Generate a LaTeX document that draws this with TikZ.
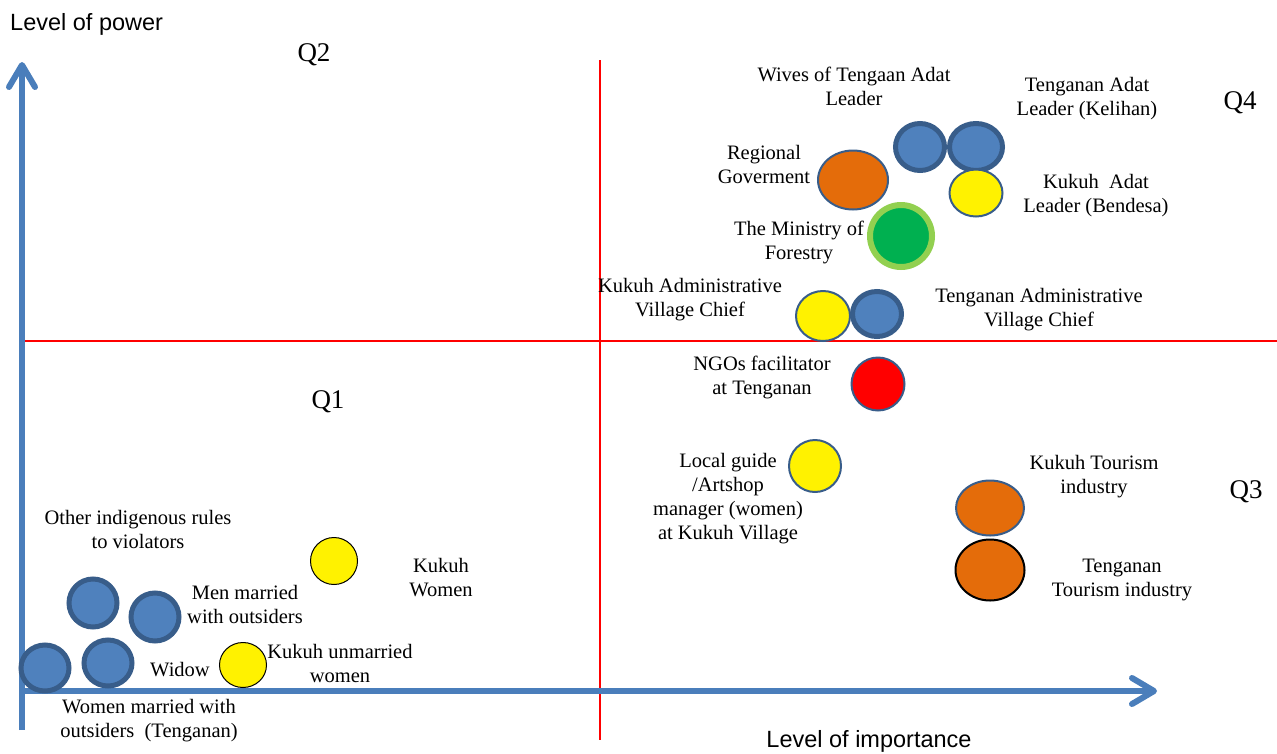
\documentclass[tikz,border=0pt]{standalone}
\usepackage{fontspec}
\setmainfont{Liberation Serif}
\newfontfamily\arialf{Liberation Sans}
\usetikzlibrary{shapes.geometric,arrows.meta}
\definecolor{bfill}{HTML}{4F81BD}
\definecolor{bdark}{HTML}{385D8A}
\definecolor{axblue}{HTML}{4A7EBB}
\definecolor{orng}{HTML}{E46C0A}
\definecolor{grn}{HTML}{00B050}
\definecolor{lgrn}{HTML}{92D050}
\begin{document}
\begin{tikzpicture}[x=1pt,y=-1pt,
  lab/.style={align=center, font=\fontsize{20.5}{24}\selectfont, inner sep=0pt},
  qlab/.style={font=\fontsize{27}{30}\selectfont, inner sep=0pt},
  axlab/.style={font=\arialf\fontsize{23.5}{26}\selectfont, inner sep=0pt},
  axisline/.style={line width=6pt, draw=axblue, -{Straight Barb[length=22pt,width=26pt,line cap=round,line join=round]}},
  quad/.style={draw=red, line width=2pt},
  blob/.style={ellipse, inner sep=0pt, outer sep=0pt},
  bluec/.style={blob, draw=bdark, line width=5pt, fill=bfill},
  yelc/.style={blob, draw=bdark, line width=2pt, fill=yellow},
  yelk/.style={blob, draw=black, line width=1pt, fill=yellow},
  orc/.style={blob, draw=bdark, line width=2pt, fill=orng},
]
\useasboundingbox (0,0) rectangle (1277,753);

% quadrant lines
\coordinate (qvt) at (600,60);
\coordinate (qvb) at (600,740);
\coordinate (qhl) at (22,341);
\coordinate (qhr) at (1277,341);
\draw[quad] (qvt) -- (qvb);
\draw[quad] (qhl) -- (qhr);

% axes
\coordinate (vb) at (22,730);
\coordinate (vt) at (22,62);
\coordinate (hl) at (22,691);
\coordinate (hr) at (1157,691);
\draw[axisline] (vb) -- (vt);
\draw[axisline] (hl) -- (hr);

\node[axlab, anchor=west] (ypow) at (10,24) {Level of power};
\node[axlab] (ximp) at (869,741) {Level of importance};

% quadrant labels
\node[qlab] (q2) at (314,55) {Q2};
\node[qlab] (q1) at (328,402) {Q1};
\node[qlab] (q4) at (1240,103) {Q4};
\node[qlab] (q3) at (1246,492) {Q3};

% circles Q4
\node[bluec, minimum width=49pt, minimum height=47pt] (wives) at (920,147) {};
\node[bluec, minimum width=53pt, minimum height=47pt] (tadat) at (976,147) {};
\node[orc, minimum width=70pt, minimum height=59pt] (regio) at (853,180) {};
\node[yelc, minimum width=53pt, minimum height=47pt] (kadat) at (976,193) {};
\node[blob, draw=lgrn, fill=grn, line width=6pt, minimum width=62pt, minimum height=62pt] (minis) at (901,236) {};
\node[yelc, minimum width=54pt, minimum height=50pt] (kadm) at (823,316) {};
\node[bluec, minimum width=49pt, minimum height=45pt] (tadm) at (877,314) {};

% circles Q3
\node[blob, draw=bdark, line width=2pt, fill=red, minimum width=53pt, minimum height=53pt] (ngo) at (878,384) {};
\node[yelc, minimum width=52pt, minimum height=52pt] (guide) at (815,466) {};
\node[orc, minimum width=68pt, minimum height=55pt] (ktour) at (990,508) {};
\node[blob, draw=black, line width=2pt, fill=orng, minimum width=69pt, minimum height=61pt] (ttour) at (990,570) {};

% circles Q1
\node[yelk, minimum width=47pt, minimum height=47pt] (kwom) at (334,561) {};
\node[bluec, minimum width=48pt, minimum height=48pt] (other) at (93,603) {};
\node[bluec, minimum width=48pt, minimum height=48pt] (men) at (155,617) {};
\node[bluec, minimum width=48pt, minimum height=46pt] (wmar) at (45,668) {};
\node[bluec, minimum width=48pt, minimum height=46pt] (widow) at (108,663) {};
\node[yelk, minimum width=47pt, minimum height=45pt] (kunm) at (243,665) {};

% labels
\node[lab] (lwives) at (854,86) {Wives of Tengaan Adat\\Leader};
\node[lab] (ltadat) at (1087,99) {Tenganan Adat\\Leader (Kelihan)};
\node[lab] (lregio) at (764,164) {Regional\\Goverment};
\node[lab] (lkadat) at (1096,196) {Kukuh\ \ Adat\\Leader (Bendesa)};
\node[lab] (lminis) at (799,242) {The Ministry of\\Forestry};
\node[lab] (lkadm) at (690,300) {Kukuh Administrative\\Village Chief};
\node[lab] (ltadm) at (1039,310) {Tenganan Administrative\\Village Chief};
\node[lab] (lngo) at (762,377) {NGOs facilitator\\at Tenganan};
\node[lab] (lguide) at (728,499) {Local guide\\/Artshop\\manager (women)\\at Kukuh Village};
\node[lab] (lktour) at (1094,477) {Kukuh Tourism\\industry};
\node[lab] (lttour) at (1122,580) {Tenganan\\Tourism industry};
\node[lab] (lother) at (138,529) {Other indigenous rules\\to violators};
\node[lab] (lkwom) at (441,578) {Kukuh\\Women};
\node[lab] (lmen) at (245,604) {Men married\\with outsiders};
\node[lab] (lwidow) at (180,670) {Widow};
\node[lab] (lkunm) at (340,663) {Kukuh unmarried\\women};
\node[lab] (lwmar) at (149,721) {Women married with\\outsiders\ \ (Tenganan)};
\end{tikzpicture}
\end{document}
